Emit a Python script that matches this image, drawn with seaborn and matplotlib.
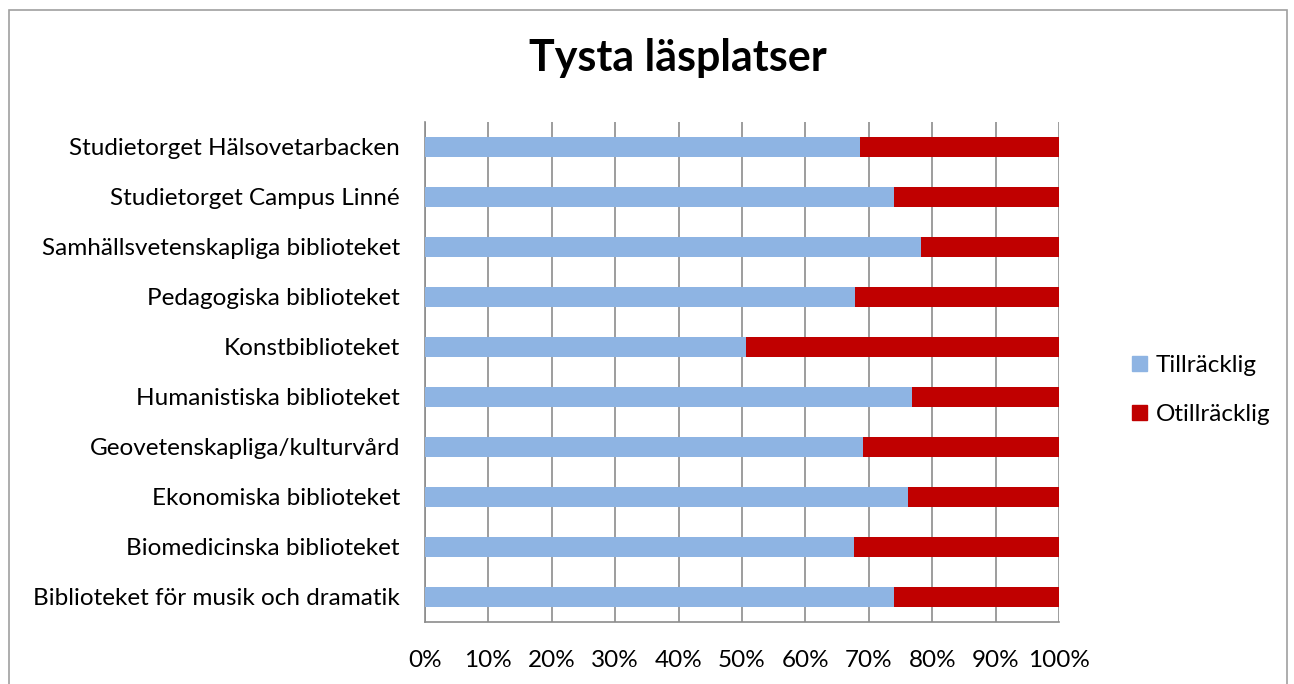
import pandas as pd
import seaborn as sns
import matplotlib.pyplot as plt
from matplotlib.patches import Rectangle, Patch

# Data (share in %)
libraries = [
    "Studietorget Hälsovetarbacken",
    "Studietorget Campus Linné",
    "Samhällsvetenskapliga biblioteket",
    "Pedagogiska biblioteket",
    "Konstbiblioteket",
    "Humanistiska biblioteket",
    "Geovetenskapliga/kulturvård",
    "Ekonomiska biblioteket",
    "Biomedicinska biblioteket",
    "Biblioteket för musik och dramatik",
]
tillracklig = [68.6, 74.0, 78.2, 67.9, 50.6, 76.8, 69.1, 76.2, 67.6, 74.0]
otillracklig = [100 - v for v in tillracklig]
x_ticks = list(range(0, 101, 10))
x_labels = [f"{t}%" for t in x_ticks]

BLUE = "#8EB4E3"
RED = "#C00000"
GRID = "#8C8C8C"
FS = 17.5

df = pd.DataFrame({"Bibliotek": libraries, "Tillräcklig": tillracklig, "Otillräcklig": otillracklig})
df["Total"] = df["Tillräcklig"] + df["Otillräcklig"]

sns.set_theme(style="white")
plt.rcParams["font.family"] = ["Lato", "DejaVu Sans"]
plt.rcParams["text.color"] = "black"
plt.rcParams["xtick.color"] = GRID
plt.rcParams["ytick.color"] = GRID
plt.rcParams["xtick.labelcolor"] = "black"
plt.rcParams["ytick.labelcolor"] = "black"

fig = plt.figure(figsize=(12.94, 6.84), dpi=100)
ax = fig.add_axes([425 / 1294, 1 - 622 / 684, 634 / 1294, 500 / 684])

# stacked: draw full bar in red, then blue part on top
sns.barplot(data=df, x="Total", y="Bibliotek", color=RED, width=0.4, ax=ax,
            saturation=1, linewidth=0, zorder=3)
sns.barplot(data=df, x="Tillräcklig", y="Bibliotek", color=BLUE, width=0.4, ax=ax,
            saturation=1, linewidth=0, zorder=4)

ax.set_xlim(0, 100)
ax.set_ylim(9.5, -0.5)
ax.set_xticks(x_ticks)
ax.set_xticklabels(x_labels, fontsize=FS)
ax.set_xlabel("")
ax.set_ylabel("")
ax.tick_params(axis="y", which="major", length=0, labelsize=FS, pad=18)
ax.set_yticks([i - 0.5 for i in range(len(libraries) + 1)], minor=True)
ax.tick_params(axis="y", which="minor", length=7, color=GRID, width=1.2, direction="out")
ax.tick_params(axis="x", length=6, color=GRID, width=1.2, direction="out", pad=14)
ax.xaxis.grid(True, color=GRID, linewidth=1.2, zorder=0)
ax.set_axisbelow(True)
for side in ["top", "right"]:
    ax.spines[side].set_visible(False)
for side in ["left", "bottom"]:
    ax.spines[side].set_color(GRID)
    ax.spines[side].set_linewidth(1.2)

fig.text(678 / 1294, 1 - 58 / 684, "Tysta läsplatser", ha="center", va="center",
         fontsize=31, fontweight="bold")

handles = [Patch(color=BLUE, label="Tillräcklig"), Patch(color=RED, label="Otillräcklig")]
fig.legend(handles=handles, loc="center left", bbox_to_anchor=(1132 / 1294, 1 - 390 / 684),
           frameon=False, fontsize=FS, handlelength=0.62, handleheight=0.62,
           handletextpad=0.35, labelspacing=1.15, borderpad=0, borderaxespad=0)

# outer chart border
fig.patches.append(Rectangle((9 / 1294, -0.05), 1278 / 1294, 1.05 - 10 / 684,
                             transform=fig.transFigure, fill=False, edgecolor="#A0A0A0", linewidth=1.2))

fig.savefig("out.png", dpi=100)
